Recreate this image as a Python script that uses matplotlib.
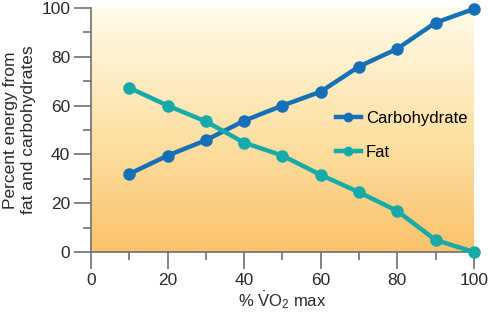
import numpy as np
import matplotlib
matplotlib.use("Agg")
import matplotlib.pyplot as plt
from matplotlib.colors import LinearSegmentedColormap

plt.rcParams['font.family'] = ['Liberation Sans', 'DejaVu Sans']
plt.rcParams['mathtext.fontset'] = 'custom'
plt.rcParams['mathtext.rm'] = 'Liberation Sans'
plt.rcParams['mathtext.it'] = 'Liberation Sans:italic'

# intensity (% VO2 max) and share of energy from each fuel
intensity = [10, 20, 30, 40, 50, 60, 70, 80, 90, 100]
carbohydrate = [32, 39.5, 45.8, 53.8, 60, 65.7, 76, 83.3, 94, 99.6]
fat = [67.3, 60, 53.5, 44.8, 39.5, 31.6, 24.5, 16.8, 4.9, 0]

x_ticks = [0, 20, 40, 60, 80, 100]
y_ticks = [0, 20, 40, 60, 80, 100]

carb_color = '#1670b8'
fat_color = '#16aaa9'
spine_color = '#6e6e6e'
text_color = '#2a2a2a'

fig = plt.figure(figsize=(4.88, 3.22), dpi=100)
ax = fig.add_axes([0.1865, 0.2174, 0.7845, 0.7578])

# warm vertical gradient behind the data
bg = LinearSegmentedColormap.from_list('warm', ['#fbc36c', '#fde2a8', '#fffbea'])
grad = np.linspace(0, 1, 256).reshape(-1, 1)
ax.imshow(grad, cmap=bg, origin='lower', extent=[0, 100, 0, 100],
          aspect='auto', zorder=0)

ax.plot(intensity, carbohydrate, color=carb_color, lw=3.2, marker='o',
        ms=8, label='Carbohydrate', zorder=3, clip_on=False)
ax.plot(intensity, fat, color=fat_color, lw=3.2, marker='o',
        ms=8, label='Fat', zorder=4, clip_on=False)

ax.set_xlim(0, 100)
ax.set_ylim(0, 100)
ax.set_xticks(x_ticks)
ax.set_yticks(y_ticks)
ax.set_xticks(range(10, 100, 20), minor=True)
ax.set_yticks(range(10, 100, 20), minor=True)

for side in ['top', 'right']:
    ax.spines[side].set_visible(False)
for side in ['left', 'bottom']:
    ax.spines[side].set_color(spine_color)
    ax.spines[side].set_linewidth(1.2)

ax.tick_params(which='major', length=12, width=1.2, color=spine_color,
               labelsize=12.5, labelcolor=text_color, pad=3)
ax.tick_params(which='minor', length=6, width=1.2, color=spine_color)
ax.tick_params(axis='x', which='major', pad=3)

ax.set_xlabel(r'% $\dot{\mathrm{V}}\mathrm{O}_2$ max', fontsize=12,
              color=text_color, labelpad=1)
ax.set_ylabel('Percent energy from\nfat and carbohydrates', fontsize=12.5,
              color=text_color, linespacing=1.25, labelpad=4)

leg = ax.legend(loc='upper left', bbox_to_anchor=(0.6, 0.64), frameon=False,
                fontsize=12, handlelength=1.5, labelspacing=1.15,
                handletextpad=0.3, markerscale=0.75)

fig.savefig('out.png', dpi=100)
